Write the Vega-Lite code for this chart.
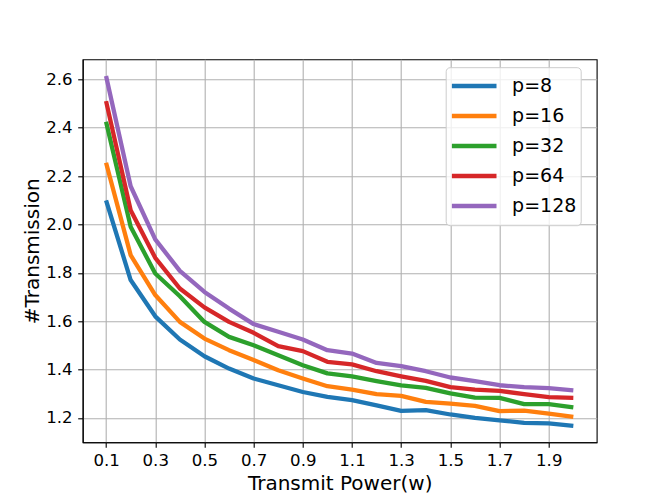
{
  "$schema": "https://vega.github.io/schema/vega-lite/v6.json",
  "autosize": {"type": "none"},
  "padding": {"left": 82.7, "top": 59.3, "right": 67.3, "bottom": 55.7},
  "width": 514,
  "height": 383,
  "background": "white",
  "data": {
    "values": [
      {"x": 0.1, "p": "p=8", "y": 2.100}, {"x": 0.2, "p": "p=8", "y": 1.770}, {"x": 0.3, "p": "p=8", "y": 1.620}, {"x": 0.4, "p": "p=8", "y": 1.524},
      {"x": 0.5, "p": "p=8", "y": 1.455}, {"x": 0.6, "p": "p=8", "y": 1.404}, {"x": 0.7, "p": "p=8", "y": 1.363}, {"x": 0.8, "p": "p=8", "y": 1.335},
      {"x": 0.9, "p": "p=8", "y": 1.307}, {"x": 1.0, "p": "p=8", "y": 1.287}, {"x": 1.1, "p": "p=8", "y": 1.273}, {"x": 1.2, "p": "p=8", "y": 1.252},
      {"x": 1.3, "p": "p=8", "y": 1.229}, {"x": 1.4, "p": "p=8", "y": 1.232}, {"x": 1.5, "p": "p=8", "y": 1.214}, {"x": 1.6, "p": "p=8", "y": 1.200},
      {"x": 1.7, "p": "p=8", "y": 1.190}, {"x": 1.8, "p": "p=8", "y": 1.179}, {"x": 1.9, "p": "p=8", "y": 1.177}, {"x": 2.0, "p": "p=8", "y": 1.167},

      {"x": 0.1, "p": "p=16", "y": 2.255}, {"x": 0.2, "p": "p=16", "y": 1.873}, {"x": 0.3, "p": "p=16", "y": 1.708}, {"x": 0.4, "p": "p=16", "y": 1.597},
      {"x": 0.5, "p": "p=16", "y": 1.528}, {"x": 0.6, "p": "p=16", "y": 1.480}, {"x": 0.7, "p": "p=16", "y": 1.439}, {"x": 0.8, "p": "p=16", "y": 1.397},
      {"x": 0.9, "p": "p=16", "y": 1.363}, {"x": 1.0, "p": "p=16", "y": 1.331}, {"x": 1.1, "p": "p=16", "y": 1.317}, {"x": 1.2, "p": "p=16", "y": 1.298},
      {"x": 1.3, "p": "p=16", "y": 1.291}, {"x": 1.4, "p": "p=16", "y": 1.266}, {"x": 1.5, "p": "p=16", "y": 1.259}, {"x": 1.6, "p": "p=16", "y": 1.250},
      {"x": 1.7, "p": "p=16", "y": 1.228}, {"x": 1.8, "p": "p=16", "y": 1.230}, {"x": 1.9, "p": "p=16", "y": 1.218}, {"x": 2.0, "p": "p=16", "y": 1.204},

      {"x": 0.1, "p": "p=32", "y": 2.425}, {"x": 0.2, "p": "p=32", "y": 1.990}, {"x": 0.3, "p": "p=32", "y": 1.797}, {"x": 0.4, "p": "p=32", "y": 1.703},
      {"x": 0.5, "p": "p=32", "y": 1.597}, {"x": 0.6, "p": "p=32", "y": 1.535}, {"x": 0.7, "p": "p=32", "y": 1.500}, {"x": 0.8, "p": "p=32", "y": 1.459},
      {"x": 0.9, "p": "p=32", "y": 1.418}, {"x": 1.0, "p": "p=32", "y": 1.384}, {"x": 1.1, "p": "p=32", "y": 1.372}, {"x": 1.2, "p": "p=32", "y": 1.352},
      {"x": 1.3, "p": "p=32", "y": 1.334}, {"x": 1.4, "p": "p=32", "y": 1.324}, {"x": 1.5, "p": "p=32", "y": 1.301}, {"x": 1.6, "p": "p=32", "y": 1.284},
      {"x": 1.7, "p": "p=32", "y": 1.283}, {"x": 1.8, "p": "p=32", "y": 1.257}, {"x": 1.9, "p": "p=32", "y": 1.257}, {"x": 2.0, "p": "p=32", "y": 1.243},

      {"x": 0.1, "p": "p=64", "y": 2.510}, {"x": 0.2, "p": "p=64", "y": 2.059}, {"x": 0.3, "p": "p=64", "y": 1.862}, {"x": 0.4, "p": "p=64", "y": 1.735},
      {"x": 0.5, "p": "p=64", "y": 1.657}, {"x": 0.6, "p": "p=64", "y": 1.597}, {"x": 0.7, "p": "p=64", "y": 1.552}, {"x": 0.8, "p": "p=64", "y": 1.497},
      {"x": 0.9, "p": "p=64", "y": 1.476}, {"x": 1.0, "p": "p=64", "y": 1.432}, {"x": 1.1, "p": "p=64", "y": 1.421}, {"x": 1.2, "p": "p=64", "y": 1.393},
      {"x": 1.3, "p": "p=64", "y": 1.372}, {"x": 1.4, "p": "p=64", "y": 1.353}, {"x": 1.5, "p": "p=64", "y": 1.327}, {"x": 1.6, "p": "p=64", "y": 1.317},
      {"x": 1.7, "p": "p=64", "y": 1.312}, {"x": 1.8, "p": "p=64", "y": 1.298}, {"x": 1.9, "p": "p=64", "y": 1.286}, {"x": 2.0, "p": "p=64", "y": 1.283},

      {"x": 0.1, "p": "p=128", "y": 2.614}, {"x": 0.2, "p": "p=128", "y": 2.158}, {"x": 0.3, "p": "p=128", "y": 1.938}, {"x": 0.4, "p": "p=128", "y": 1.808},
      {"x": 0.5, "p": "p=128", "y": 1.721}, {"x": 0.6, "p": "p=128", "y": 1.652}, {"x": 0.7, "p": "p=128", "y": 1.588}, {"x": 0.8, "p": "p=128", "y": 1.556},
      {"x": 0.9, "p": "p=128", "y": 1.524}, {"x": 1.0, "p": "p=128", "y": 1.480}, {"x": 1.1, "p": "p=128", "y": 1.466}, {"x": 1.2, "p": "p=128", "y": 1.427},
      {"x": 1.3, "p": "p=128", "y": 1.414}, {"x": 1.4, "p": "p=128", "y": 1.393}, {"x": 1.5, "p": "p=128", "y": 1.367}, {"x": 1.6, "p": "p=128", "y": 1.352},
      {"x": 1.7, "p": "p=128", "y": 1.335}, {"x": 1.8, "p": "p=128", "y": 1.327}, {"x": 1.9, "p": "p=128", "y": 1.323}, {"x": 2.0, "p": "p=128", "y": 1.314}
    ]
  },
  "mark": {"type": "line", "strokeWidth": 4.3, "strokeCap": "butt", "strokeJoin": "round"},
  "encoding": {
    "x": {
      "field": "x",
      "type": "quantitative",
      "title": "Transmit Power(w)",
      "scale": {"domain": [0.005, 2.095], "nice": false, "zero": false},
      "axis": {"values": [0.1, 0.3, 0.5, 0.7, 0.9, 1.1, 1.3, 1.5, 1.7, 1.9], "format": ".1f", "labelPadding": 5.5, "titlePadding": 4}
    },
    "y": {
      "field": "y",
      "type": "quantitative",
      "title": "#Transmission",
      "scale": {"domain": [1.099, 2.683], "nice": false, "zero": false},
      "axis": {"values": [1.2, 1.4, 1.6, 1.8, 2.0, 2.2, 2.4, 2.6], "format": ".1f", "labelPadding": 5.6, "titlePadding": 3}
    },
    "color": {
      "field": "p",
      "type": "nominal",
      "scale": {
        "domain": ["p=8", "p=16", "p=32", "p=64", "p=128"],
        "range": ["#1f77b4", "#ff7f0e", "#2ca02c", "#d62728", "#9467bd"]
      },
      "legend": {
        "title": null,
        "orient": "none",
        "legendX": 363,
        "legendY": 7.9,
        "symbolType": "stroke",
        "symbolSize": 1990,
        "symbolStrokeWidth": 4.3,
        "labelFontSize": 19,
        "labelOffset": 13.4,
        "clipHeight": 29.6,
        "rowPadding": 0,
        "padding": 4,
        "strokeColor": "#cccccc",
        "fillColor": "rgba(255,255,255,0.8)",
        "cornerRadius": 4
      }
    }
  },
  "config": {
    "font": "DejaVu Sans",
    "view": {"stroke": "black", "strokeWidth": 1.1},
    "axis": {
      "grid": true,
      "gridColor": "#b0b0b0",
      "gridWidth": 1.1,
      "domainColor": "black",
      "domainWidth": 1.1,
      "tickColor": "black",
      "tickWidth": 1.1,
      "tickSize": 5,
      "labelColor": "black",
      "labelFontSize": 16.6,
      "labelFlush": false,
      "labelOverlap": false,
      "titleColor": "black",
      "titleFontSize": 20,
      "titleFontWeight": "normal"
    },
    "legend": {"labelColor": "black", "labelFont": "DejaVu Sans"}
  }
}
